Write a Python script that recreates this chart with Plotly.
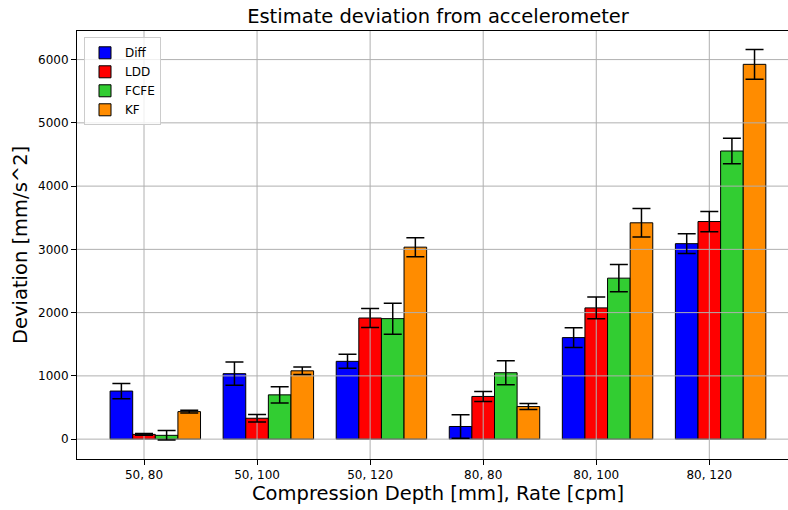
import plotly.graph_objects as go

# Compression settings (depth mm, rate cpm)
categories = ["50, 80", "50, 100", "50, 120", "80, 80", "80, 100", "80, 120"]

# Mean deviation of each estimator from the accelerometer [mm/s^2] and its spread
diff = [760, 1035, 1230, 200, 1605, 3090]
diff_err = [120, 185, 110, 185, 155, 155]
ldd = [75, 330, 1915, 675, 2075, 3440]
ldd_err = [15, 60, 150, 80, 170, 160]
fcfe = [60, 700, 1905, 1050, 2545, 4555]
fcfe_err = [75, 130, 245, 190, 215, 200]
kf = [435, 1080, 3035, 515, 3420, 5925]
kf_err = [20, 60, 150, 47, 225, 235]

y_ticks = [0, 1000, 2000, 3000, 4000, 5000, 6000]

series = [
    ("Diff", diff, diff_err, "#0000ff"),
    ("LDD", ldd, ldd_err, "#ff0000"),
    ("FCFE", fcfe, fcfe_err, "#32cd32"),
    ("KF", kf, kf_err, "#ff8c00"),
]

bar_w = 0.2
offsets = [-0.2, 0.0, 0.2, 0.4]
x_range = [-0.5926, 5.696]
y_range = [-314, 6452]

fig = go.Figure()

# Bars
for (name, vals, errs, color), off in zip(series, offsets):
    xs = [i + off for i in range(len(categories))]
    fig.add_trace(go.Bar(
        x=xs, y=vals, width=bar_w, name=name,
        marker=dict(color=color, line=dict(color="black", width=1)),
    ))

# Grid drawn over the bars
gx, gy = [], []
for i in range(len(categories)):
    gx += [i, i, None]
    gy += [y_range[0], y_range[1], None]
for t in y_ticks:
    gx += [x_range[0], x_range[1], None]
    gy += [t, t, None]
fig.add_trace(go.Scatter(
    x=gx, y=gy, mode="lines", line=dict(color="#b0b0b0", width=1),
    hoverinfo="skip", showlegend=False,
))

# Error bars on top of grid
for (name, vals, errs, color), off in zip(series, offsets):
    xs = [i + off for i in range(len(categories))]
    fig.add_trace(go.Scatter(
        x=xs, y=vals, mode="markers", marker=dict(size=0.1, color="rgba(0,0,0,0)"),
        error_y=dict(type="data", array=errs, visible=True, color="black",
                     thickness=1.5, width=9),
        showlegend=False, hoverinfo="skip",
    ))

font_family = "DejaVu Sans"
label_size = 19.5

fig.update_layout(
    width=788, height=510,
    margin=dict(l=77, r=0, t=31, b=51),
    paper_bgcolor="white", plot_bgcolor="white",
    font=dict(family=font_family, color="black", size=12),
    barmode="overlay",
    showlegend=True,
    title=dict(text="Estimate deviation from accelerometer",
               x=438 / 788, xref="container", xanchor="center",
               y=1 - 16 / 510, yref="container", yanchor="middle",
               font=dict(size=label_size, family=font_family, color="black")),
    legend=dict(x=(84 - 77) / 711, y=(459.3 - 37) / 428.6,
                xanchor="left", yanchor="top",
                bgcolor="rgba(255,255,255,0.8)", bordercolor="#cccccc", borderwidth=1,
                font=dict(size=12, family=font_family, color="black"),
                tracegroupgap=0),
    xaxis=dict(
        range=x_range, tickmode="array",
        tickvals=list(range(len(categories))), ticktext=categories,
        showgrid=False, zeroline=False,
        showline=True, linecolor="black", linewidth=1, mirror=True,
        ticks="outside", ticklen=5, tickcolor="black",
        tickfont=dict(size=12),
    ),
    yaxis=dict(
        range=y_range, tickmode="array", tickvals=y_ticks,
        showgrid=False, zeroline=False,
        showline=True, linecolor="black", linewidth=1,
        ticks="outside", ticklen=5, tickcolor="black",
        tickfont=dict(size=12),
    ),
    annotations=[
        dict(text="Compression Depth [mm], Rate [cpm]", xref="paper", yref="paper",
             x=(438 - 77) / 711, y=(459.3 - 494) / 428.6, xanchor="center", yanchor="middle",
             showarrow=False, font=dict(size=label_size, family=font_family, color="black")),
        dict(text="Deviation [mm/s^2]", xref="paper", yref="paper",
             x=(20 - 77) / 711, y=(459.3 - 245) / 428.6, xanchor="center", yanchor="middle",
             textangle=-90, showarrow=False,
             font=dict(size=label_size, family=font_family, color="black")),
    ],
)

fig.write_html("out.html")
